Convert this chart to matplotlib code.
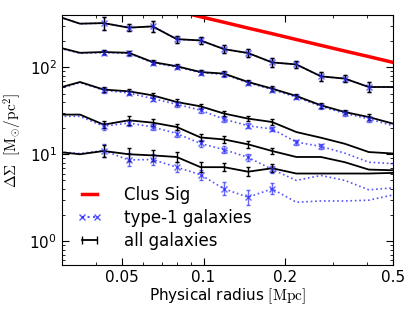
import numpy as np
import matplotlib
matplotlib.use("Agg")
import matplotlib.pyplot as plt
from matplotlib.lines import Line2D

plt.rcParams['mathtext.fontset'] = 'cm'

# radial bins [Mpc]
radius = [0.0285, 0.035, 0.0428, 0.053, 0.0649, 0.0796, 0.0975, 0.119,
          0.146, 0.179, 0.220, 0.271, 0.332, 0.407, 0.50]

# cluster signal model
clus_sig = [np.nan, np.nan, np.nan, np.nan, 516, 444, 382, 330, 283, 244,
            209, 179, 154, 133, 114]

nan = np.nan

# all galaxies, five samples (Delta Sigma in Msun/pc^2)
all_1 = [393, 318, 323, 286, 296, 211, 204, 162, 146, 114, 108, 78.8, 74.2, 59.4, 59.4]
all_2 = [173, 147, 150, 147, 115, 103, 88.3, 84.7, 67.8, 56.9, 46.8, 36.6, 30.6, 26.8, 22.5]
all_3 = [56.7, 67.8, 55.5, 53.0, 47.6, 39.9, 35.6, 29.4, 25.7, 23.5, 18.0, 15.5, 13.2, 10.6, 10.2]
all_4 = [28.6, 28.6, 21.9, 24.6, 23.1, 20.6, 15.6, 14.8, 13.0, 10.9, 9.3, 9.3, 8.1, 6.66, 6.54]
all_5 = [10.7, 10.0, 10.9, 10.0, 9.7, 9.3, 7.1, 7.1, 6.3, 6.9, 6.0, 6.0, 6.0, 6.0, 6.1]

# type-1 galaxies
t1_1 = [393, 318, 323, 286, 296, 211, 204, 162, 146, 114, 108, 78.8, 74.2, 59.4, 59.4]
t1_2 = [170, 145, 148, 145, 113, 101, 87, 83, 66.5, 55.5, 45.5, 35.5, 29.5, 25.5, 21.3]
t1_3 = [55, 66.7, 54.5, 50.7, 43.7, 37.6, 32.1, 25.3, 21.3, 19.5, 13.8, 12.3, 10.3, 8.1, 7.8]
t1_4 = [27.3, 27.3, 21.0, 22.9, 20.6, 17.3, 13.3, 11.3, 9.2, 6.7, 5.0, 5.7, 5.0, 3.9, 4.1]
t1_5 = [10.7, 10.2, 11.0, 8.6, 8.7, 7.1, 5.8, 4.0, 3.2, 4.0, 2.8, 2.9, 2.9, 2.96, 3.4]

# error bar half lengths in dex (nan = no error bar)
err_all_1 = [nan, nan, 0.075, 0.042, 0.065, 0.042, 0.038, 0.048, 0.042, 0.048, 0.042, 0.055, 0.042, 0.055, nan]
err_all_2 = [nan, nan, 0.027, 0.026, 0.025, 0.026, 0.025, 0.026, 0.025, 0.027, 0.026, 0.027, 0.027, 0.032, nan]
err_all_3 = [nan, nan, 0.032, 0.032, 0.032, 0.032, 0.032, 0.032, 0.032, 0.032, nan, nan, nan, nan, nan]
err_all_4 = [nan, nan, 0.038, 0.05, 0.038, 0.038, 0.038, 0.038, 0.038, 0.038, nan, nan, nan, nan, nan]
err_all_5 = [nan, nan, 0.065, 0.075, 0.065, 0.055, 0.055, 0.045, 0.055, 0.045, nan, nan, nan, nan, nan]

err_t1_1 = err_all_1
err_t1_2 = [nan, nan, 0.027, 0.026, 0.025, 0.026, 0.025, 0.026, 0.025, 0.027, 0.026, 0.027, 0.027, 0.032, nan]
err_t1_3 = [nan, nan, 0.028, 0.028, 0.028, 0.028, 0.028, 0.028, 0.028, 0.028, 0.028, 0.028, nan, nan, nan]
err_t1_4 = [nan, nan, 0.038, 0.038, 0.038, 0.038, 0.038, 0.038, 0.038, 0.042, nan, nan, nan, nan, nan]
err_t1_5 = [nan, nan, 0.075, 0.075, 0.065, 0.055, 0.055, 0.075, 0.085, 0.065, nan, nan, nan, nan, nan]

all_gal = [all_1, all_2, all_3, all_4, all_5]
t1_gal = [t1_1, t1_2, t1_3, t1_4, t1_5]
err_all = [err_all_1, err_all_2, err_all_3, err_all_4, err_all_5]
err_t1 = [err_t1_1, err_t1_2, err_t1_3, err_t1_4, err_t1_5]

x = np.array(radius)
blue = '#2a2aff'


def asym(y, d):
    # convert dex half length to lower / upper linear errors
    return np.vstack([y * (1 - 10**(-d)), y * (10**d - 1)])


fig = plt.figure(figsize=(4.15, 3.13), dpi=100)
ax = fig.add_axes([0.149, 0.153, 0.798, 0.799])

ax.plot(x, clus_sig, color='red', lw=2.5)

for y, e in zip(t1_gal, err_t1):
    y = np.array(y); e = np.array(e)
    m = ~np.isnan(e)
    ax.plot(x, y, ':', color=blue, lw=1.2, alpha=0.8)
    ax.errorbar(x[m], y[m], yerr=asym(y[m], e[m]), fmt='x', color=blue,
                ms=4, mew=1, capsize=1.5, elinewidth=1, alpha=0.7)

for y, e in zip(all_gal, err_all):
    y = np.array(y); e = np.array(e)
    m = ~np.isnan(e)
    ax.plot(x, y, '-', color='k', lw=1.3)
    ax.errorbar(x[m], y[m], yerr=asym(y[m], e[m]), fmt='none', ecolor='k',
                capsize=1.5, elinewidth=1)

ax.set_xscale('log')
ax.set_yscale('log')
ax.set_xlim(0.03, 0.5)
ax.set_ylim(0.53, 400)
ax.set_xticks([0.05, 0.1, 0.2, 0.5])
ax.set_xticklabels(['0.05', '0.1', '0.2', '0.5'])
ax.tick_params(which='both', direction='in', top=True, right=True, labelsize=11)
ax.tick_params(which='major', length=5)
ax.tick_params(which='minor', length=2.5)

ax.set_xlabel(r'Physical radius $[\mathrm{Mpc}]$', fontsize=11, labelpad=1)
ax.set_ylabel(r'$\Delta\Sigma\ \ [\mathrm{M}_{\odot}/\mathrm{pc}^2]$', fontsize=11)

h_red = Line2D([], [], color='red', lw=2.5)
h_t1 = Line2D([], [], color=blue, ls=':', marker='x', ms=4, alpha=0.8)
h_all = ax.errorbar([], [], yerr=[], fmt='-', color='k', capsize=1, lw=1.3,
                    elinewidth=1)
leg = ax.legend([h_red, h_t1, h_all], ['Clus Sig', 'type-1 galaxies', 'all galaxies'],
                loc='lower left', frameon=False, fontsize=12, numpoints=2,
                handlelength=1.5, handletextpad=1.3, labelspacing=0.3,
                handler_map={h_all: matplotlib.legend_handler.HandlerErrorbar(xerr_size=0.3, yerr_size=0.25)})

fig.savefig('out.png', dpi=100)
